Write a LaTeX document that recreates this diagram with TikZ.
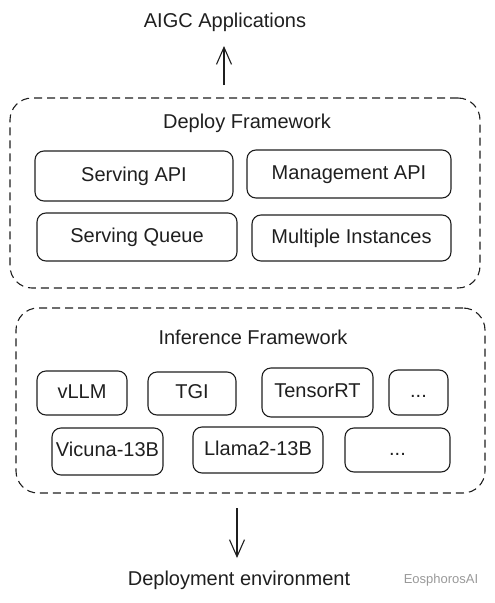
\documentclass[tikz,border=0pt]{standalone}
\usepackage{fontspec}
\setmainfont{Liberation Sans}
\usetikzlibrary{arrows.meta}
\begin{document}
\begin{tikzpicture}[x=1pt,y=-1pt,
  ink/.style={draw=black!88, line width=1.1pt},
  frame/.style={ink, dash pattern=on 8pt off 5pt, rounded corners=22pt, inner sep=0pt},
  item/.style={ink, rounded corners=9pt, inner sep=0pt, font=\fontsize{20}{24}\selectfont, text=black!88, text height=14pt, text depth=4pt},
  lbl/.style={font=\fontsize{20}{24}\selectfont, text=black!88, inner sep=0pt},
  arr/.style={ink, -{Straight Barb[length=17pt,width=15pt,line width=1.1pt]}}
]
\useasboundingbox (0,0) rectangle (495,603);
% frames
\node[frame, minimum width=470pt, minimum height=190pt] (deploy) at (245,193) {};
\node[frame, minimum width=469pt, minimum height=185pt] (infer) at (250.5,400.5) {};
% titles
\node[lbl] (aigc) at (225,22) {AIGC Applications};
\node[lbl] (deployT) at (247,123) {Deploy Framework};
\node[lbl] (inferT) at (253,337) {Inference Framework};
\node[lbl] (env) at (239,580) {Deployment environment};
\node[inner sep=0pt, font=\fontsize{13}{15}\selectfont, text=black!40] (wm) at (441,580) {EosphorosAI};
% deploy items
\node[item, minimum width=198pt, minimum height=50pt] (serving) at (134,176) {Serving API};
\node[item, minimum width=204pt, minimum height=48pt] (mgmt) at (349,174) {Management API};
\node[item, minimum width=200pt, minimum height=48pt] (queue) at (137,237) {Serving Queue};
\node[item, minimum width=199pt, minimum height=46pt] (multi) at (351.5,238) {Multiple Instances};
% inference items
\node[item, minimum width=90pt, minimum height=44pt] (vllm) at (82,393) {vLLM};
\node[item, minimum width=88pt, minimum height=43pt] (tgi) at (192,393.5) {TGI};
\node[item, minimum width=111pt, minimum height=49pt] (trt) at (317.5,392.5) {TensorRT};
\node[item, minimum width=59pt, minimum height=45pt] (dotsA) at (418.5,392.5) {...};
\node[item, minimum width=111pt, minimum height=47pt] (vicuna) at (107.5,451.5) {Vicuna-13B};
\node[item, minimum width=130pt, minimum height=46pt] (llama) at (258,450) {Llama2-13B};
\node[item, minimum width=105pt, minimum height=44pt] (dotsB) at (397.5,450) {...};
% arrows
\coordinate (upS) at (224,85);
\coordinate (upE) at (224,46);
\draw[arr] (upS) -- (upE);
\coordinate (dnS) at (237,508);
\coordinate (dnE) at (237,558);
\draw[arr] (dnS) -- (dnE);
\end{tikzpicture}
\end{document}
